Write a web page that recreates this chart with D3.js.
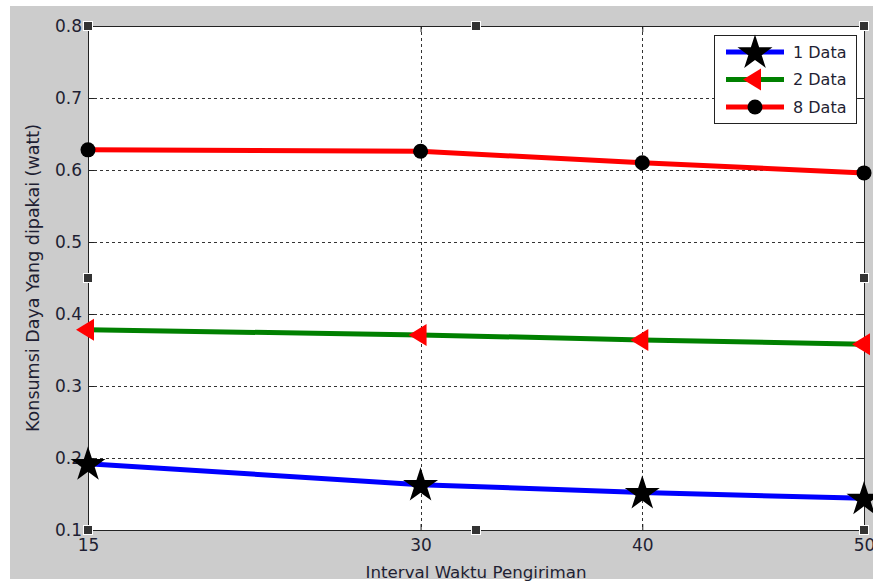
<!DOCTYPE html>
<html>
<head>
<meta charset="utf-8">
<script src="https://cdn.jsdelivr.net/npm/d3@7"></script>
<style>
  body { margin: 0; background: #fff; }
  svg { display: block; }
  text { font-family: "DejaVu Sans", "Liberation Sans", sans-serif; fill: #1f1f33; }
</style>
</head>
<body>
<svg id="chart" width="873" height="583"></svg>
<script>
// data
const intervals = [15, 30, 40, 50];
const data1 = [0.192, 0.163, 0.152, 0.144];
const data2 = [0.378, 0.371, 0.364, 0.358];
const data8 = [0.628, 0.626, 0.610, 0.596];
const seriesNames = ["1 Data", "2 Data", "8 Data"];
const yTicks = [0.1, 0.2, 0.3, 0.4, 0.5, 0.6, 0.7, 0.8];

const width = 873, height = 583;
const margin = {top: 26, right: 9, bottom: 53, left: 88};

const svg = d3.select("#chart");

// grey figure background
svg.append("rect").attr("x", 10).attr("y", 6).attr("width", width - 10).attr("height", 573).attr("fill", "#cccccc");

const x = d3.scaleLinear().domain([15, 50]).range([margin.left, width - margin.right]);
const y = d3.scaleLinear().domain([0.1, 0.8]).range([height - margin.bottom, margin.top]);

const x0 = x.range()[0], x1 = x.range()[1], y0 = y.range()[0], y1 = y.range()[1];

svg.append("rect").attr("x", x0).attr("y", y1).attr("width", x1 - x0).attr("height", y0 - y1).attr("fill", "#fff");

// grid
const grid = svg.append("g").attr("stroke", "#333").attr("stroke-width", 1).attr("stroke-dasharray", "3,3");
grid.selectAll(".gx").data(intervals.slice(1, -1)).join("line")
  .attr("x1", d => Math.round(x(d)) + 0.5).attr("x2", d => Math.round(x(d)) + 0.5)
  .attr("y1", y1).attr("y2", y0);
grid.selectAll(".gy").data(yTicks.slice(1, -1)).join("line")
  .attr("y1", d => Math.round(y(d)) + 0.5).attr("y2", d => Math.round(y(d)) + 0.5)
  .attr("x1", x0).attr("x2", x1);

// axes (ticks inside, MATLAB style)
const tl = 6;
const xAxis = d3.axisBottom(x).tickValues(intervals).tickSize(-tl).tickPadding(9).tickFormat(d3.format("d"));
const xAxisTop = d3.axisTop(x).tickValues(intervals).tickSize(-tl).tickFormat("");
const yAxis = d3.axisLeft(y).tickValues(yTicks).tickSize(-tl).tickPadding(6).tickFormat(d3.format(".1f"));
const yAxisRight = d3.axisRight(y).tickValues(yTicks).tickSize(-tl).tickFormat("");

function style(g) {
  g.select(".domain").remove();
  g.selectAll(".tick line").attr("stroke", "#222");
  g.selectAll("text").attr("font-size", 17).attr("fill", "#1f1f33")
    .attr("font-family", "DejaVu Sans, Liberation Sans, sans-serif");
}
svg.append("g").attr("transform", `translate(0,${y0})`).call(xAxis).call(style);
svg.append("g").attr("transform", `translate(0,${y1})`).call(xAxisTop).call(style);
svg.append("g").attr("transform", `translate(${x0},0)`).call(yAxis).call(style);
svg.append("g").attr("transform", `translate(${x1},0)`).call(yAxisRight).call(style);

svg.append("rect").attr("x", x0 + 0.5).attr("y", y1 + 0.5).attr("width", x1 - x0).attr("height", y0 - y1)
  .attr("fill", "none").attr("stroke", "#222").attr("stroke-width", 1);

// series
const series = [
  {name: seriesNames[0], values: data1, color: "#0000ff", marker: "star"},
  {name: seriesNames[1], values: data2, color: "#008000", marker: "tri"},
  {name: seriesNames[2], values: data8, color: "#ff0000", marker: "circle"}
];

const line = d3.line().x((d, i) => x(intervals[i])).y(d => y(d));

function drawMarker(g, type, cx, cy) {
  if (type === "star") {
    g.append("path").attr("d", d3.symbol(d3.symbolStar, 380)())
      .attr("transform", `translate(${cx},${cy + 1})`).attr("fill", "#000");
  } else if (type === "tri") {
    g.append("path").attr("d", "M-12,0 L6,-11 L6,11 Z")
      .attr("transform", `translate(${cx},${cy})`).attr("fill", "#ff0000");
  } else {
    g.append("circle").attr("cx", cx).attr("cy", cy).attr("r", 7.5).attr("fill", "#000");
  }
}

const plot = svg.append("g");
series.forEach(s => {
  plot.append("path").datum(s.values).attr("d", line)
    .attr("fill", "none").attr("stroke", s.color).attr("stroke-width", 5);
  s.values.forEach((v, i) => drawMarker(plot, s.marker, x(intervals[i]), y(v)));
});

// legend
const lg = svg.append("g").attr("transform", "translate(714,35)");
lg.append("rect").attr("x", 0.5).attr("y", 0.5).attr("width", 142).attr("height", 88)
  .attr("fill", "#fff").attr("stroke", "#222");
series.forEach((s, i) => {
  const yy = 17 + i * 27.5;
  lg.append("line").attr("x1", 12).attr("x2", 70).attr("y1", yy).attr("y2", yy)
    .attr("stroke", s.color).attr("stroke-width", 5);
  drawMarker(lg, s.marker, 41, yy);
  lg.append("text").attr("x", 79).attr("y", yy).attr("dy", "0.35em").attr("font-size", 16).text(s.name);
});

// selection handles (figure edit mode)
const hs = 9;
const handles = [
  [x0, y1], [x1, y1], [x0, y0], [x1, y0],
  [(x0 + x1) / 2, y1], [(x0 + x1) / 2, y0], [x0, (y0 + y1) / 2], [x1, (y0 + y1) / 2]
];
svg.append("g").selectAll("rect").data(handles).join("rect")
  .attr("x", d => d[0] - hs / 2).attr("y", d => d[1] - hs / 2)
  .attr("width", hs).attr("height", hs).attr("fill", "#333").attr("stroke", "#fff").attr("stroke-width", 1);

// axis labels
svg.append("text").attr("x", (x0 + x1) / 2).attr("y", 578).attr("text-anchor", "middle")
  .attr("font-size", 16.7).text("Interval Waktu Pengiriman");
svg.append("text").attr("transform", `translate(39,${(y0 + y1) / 2}) rotate(-90)`)
  .attr("text-anchor", "middle").attr("font-size", 17.5).text("Konsumsi Daya Yang dipakai (watt)");
</script>
</body>
</html>
